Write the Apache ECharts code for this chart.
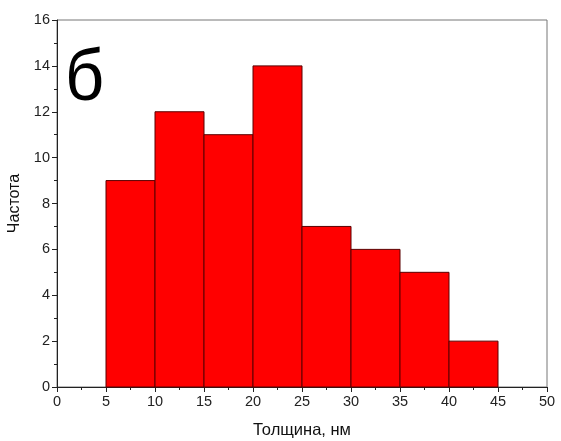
<!DOCTYPE html>
<html>
<head>
<meta charset="utf-8">
<script src="https://cdn.jsdelivr.net/npm/echarts@6/dist/echarts.min.js"></script>
<style>
html, body { margin: 0; padding: 0; background: #fff; }
#chart { width: 561px; height: 441px; }
</style>
</head>
<body>
<div id="chart"></div>
<script>
// Histogram bins (nm) and their counts
const binStarts = [5, 10, 15, 20, 25, 30, 35, 40];
const binEnds = [10, 15, 20, 25, 30, 35, 40, 45];
const counts = [9, 12, 11, 14, 7, 6, 5, 2];
const xTicks = [0, 5, 10, 15, 20, 25, 30, 35, 40, 45, 50];
const yTicks = [0, 2, 4, 6, 8, 10, 12, 14, 16];

const chart = echarts.init(document.getElementById('chart'), null, { renderer: 'canvas' });

const binData = binStarts.map((s, i) => [s, binEnds[i], counts[i]]);

const font = '"Liberation Sans", Arial, sans-serif';

chart.setOption({
  animation: false,
  grid: {
    left: 57, right: 14, top: 20, bottom: 54,
    outerBoundsMode: 'none', containLabel: false,
    show: true, borderColor: '#777', borderWidth: 1
  },
  xAxis: {
    type: 'value',
    min: xTicks[0], max: xTicks[xTicks.length - 1], interval: 5,
    name: 'Толщина, нм', nameLocation: 'middle', nameGap: 35,
    nameTextStyle: { fontFamily: font, fontSize: 16.5, color: '#111' },
    axisLine: { show: true, lineStyle: { color: '#222', width: 1 } },
    axisTick: { show: true, length: 5, lineStyle: { color: '#222' } },
    minorTick: { show: true, splitNumber: 2, length: 3, lineStyle: { color: '#222' } },
    splitLine: { show: false },
    axisLabel: { fontFamily: font, fontSize: 14.5, color: '#222', margin: 7 }
  },
  yAxis: {
    type: 'value',
    min: yTicks[0], max: yTicks[yTicks.length - 1], interval: 2,
    name: 'Частота', nameLocation: 'middle', nameGap: 33, nameRotate: 90,
    nameTextStyle: { fontFamily: font, fontSize: 16, color: '#111' },
    axisLine: { show: true, lineStyle: { color: '#222', width: 1 } },
    axisTick: { show: true, length: 5, lineStyle: { color: '#222' } },
    minorTick: { show: true, splitNumber: 2, length: 3, lineStyle: { color: '#222' } },
    splitLine: { show: false },
    axisLabel: { fontFamily: font, fontSize: 14.5, color: '#222', margin: 7 }
  },
  graphic: [{
    type: 'text',
    x: 65, y: 44,
    scaleX: 0.95,
    style: { text: 'б', fontFamily: font, fontSize: 72, fill: '#000' }
  }],
  series: [{
    type: 'custom',
    data: binData,
    encode: { x: [0, 1], y: 2 },
    renderItem: function (params, api) {
      const p0 = api.coord([api.value(0), api.value(2)]);
      const p1 = api.coord([api.value(1), 0]);
      return {
        type: 'rect',
        shape: { x: p0[0], y: p0[1], width: p1[0] - p0[0], height: p1[1] - p0[1] },
        style: { fill: '#ff0000', stroke: '#5a0000', lineWidth: 1 }
      };
    }
  }]
});
</script>
</body>
</html>
